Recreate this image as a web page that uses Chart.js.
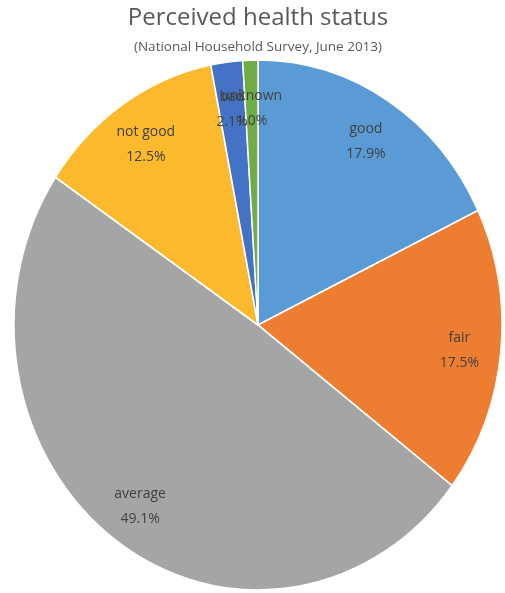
<!DOCTYPE html>
<html>
<head>
<meta charset="utf-8">
<script src="https://cdn.jsdelivr.net/npm/chart.js@4/dist/chart.umd.min.js"></script>
<style>
  html, body { margin: 0; padding: 0; background: #ffffff; }
  #wrap { width: 505px; height: 593px; position: relative; }
</style>
</head>
<body>
<div id="wrap"><canvas id="c" width="505" height="593"></canvas></div>
<script>
// Perceived health status, share of respondents (%)
const categories = ['good', 'fair', 'average', 'not good', 'bad', 'unknown'];
const shares = [17.9, 17.5, 49.1, 12.5, 2.1, 1.0];
const sliceColors = ['#5B9BD5', '#ED7D31', '#A5A5A5', '#FBBA2E', '#4472C4', '#70AD47'];

const titleText = 'Perceived health status';
const subtitleText = '(National Household Survey, June 2013)';

// The pie is drawn slightly taller than wide.
const yStretch = 1.086;
const labelRadius = 0.83;

const stretchPlugin = {
  id: 'stretch',
  beforeDatasetsDraw(chart) {
    const arc = chart.getDatasetMeta(0).data[0];
    const ctx = chart.ctx;
    ctx.save();
    ctx.translate(arc.x, arc.y);
    ctx.scale(1, yStretch);
    ctx.translate(-arc.x, -arc.y);
  },
  afterDatasetsDraw(chart) {
    chart.ctx.restore();
  }
};

// Category name and percentage inside each slice
const sliceLabels = {
  id: 'sliceLabels',
  afterDatasetsDraw(chart) {
    const ctx = chart.ctx;
    const meta = chart.getDatasetMeta(0);
    const values = chart.data.datasets[0].data;
    ctx.save();
    ctx.font = '14px "Open Sans", sans-serif';
    ctx.fillStyle = '#404040';
    ctx.textAlign = 'center';
    ctx.textBaseline = 'middle';
    meta.data.forEach((arc, i) => {
      const mid = (arc.startAngle + arc.endAngle) / 2;
      const r = arc.outerRadius * labelRadius;
      const x = arc.x + r * Math.cos(mid);
      const y = arc.y + r * yStretch * Math.sin(mid) + 3;
      ctx.fillText(chart.data.labels[i], x, y - 12.5);
      ctx.fillText(values[i].toFixed(1) + '%', x, y + 12.5);
    });
    ctx.restore();
  }
};

new Chart(document.getElementById('c'), {
  type: 'pie',
  data: {
    labels: categories,
    datasets: [{
      data: shares,
      backgroundColor: sliceColors,
      borderColor: '#ffffff',
      borderWidth: 1.5
    }]
  },
  options: {
    responsive: false,
    animation: false,
    radius: 244,
    layout: { padding: { left: 11, right: 0, top: 0, bottom: 4 } },
    plugins: {
      legend: { display: false },
      tooltip: { enabled: false },
      title: {
        display: true,
        text: titleText,
        color: '#595959',
        font: { family: '"Open Sans", sans-serif', size: 24, weight: 'normal' },
        padding: { top: 4, bottom: 2 }
      },
      subtitle: {
        display: true,
        text: subtitleText,
        color: '#595959',
        font: { family: '"Open Sans", sans-serif', size: 13.5, weight: 'normal' },
        padding: { top: 4, bottom: 6 }
      }
    }
  },
  plugins: [stretchPlugin, sliceLabels]
});
</script>
</body>
</html>
